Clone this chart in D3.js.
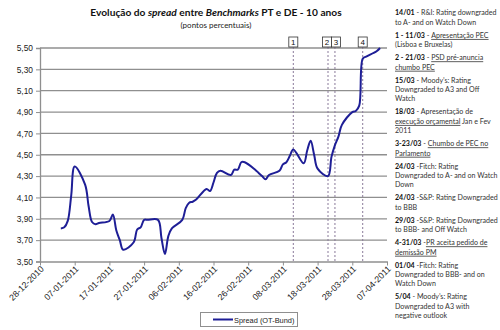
<!DOCTYPE html>
<html>
<head>
<meta charset="utf-8">
<script src="https://cdn.jsdelivr.net/npm/d3@7"></script>
<style>
  html, body { margin: 0; padding: 0; background: #fff; }
  svg { display: block; }
</style>
</head>
<body>
<svg id="chart" width="500" height="330"></svg>
<script>
// Daily closes of the PT–DE 10y spread (percentage points)
const dates = [
  "2011-01-03","2011-01-04","2011-01-05","2011-01-06","2011-01-07",
  "2011-01-10","2011-01-11","2011-01-12","2011-01-13","2011-01-14",
  "2011-01-17","2011-01-18","2011-01-19","2011-01-20","2011-01-21",
  "2011-01-24","2011-01-25","2011-01-26","2011-01-27","2011-01-28",
  "2011-01-31","2011-02-01","2011-02-02","2011-02-03","2011-02-04",
  "2011-02-07","2011-02-08","2011-02-09","2011-02-10","2011-02-11",
  "2011-02-14","2011-02-15","2011-02-16","2011-02-17","2011-02-18",
  "2011-02-21","2011-02-22","2011-02-23","2011-02-24","2011-02-25",
  "2011-02-28","2011-03-01","2011-03-02","2011-03-03","2011-03-04",
  "2011-03-07","2011-03-08","2011-03-09","2011-03-10","2011-03-11",
  "2011-03-14","2011-03-15","2011-03-16","2011-03-17","2011-03-18",
  "2011-03-21","2011-03-22","2011-03-23","2011-03-24","2011-03-25",
  "2011-03-28","2011-03-29","2011-03-30","2011-03-31","2011-04-01",
  "2011-04-04","2011-04-05"
];
const spread = [
  3.81, 3.82, 3.88, 4.12, 4.39,
  4.22, 4.02, 3.87, 3.85, 3.86,
  3.88, 3.94, 3.79, 3.70, 3.61,
  3.68, 3.80, 3.82, 3.89, 3.89,
  3.89, 3.72, 3.57, 3.74, 3.81,
  3.89, 4.00, 4.05, 4.06, 4.08,
  4.18, 4.16, 4.24, 4.33, 4.35,
  4.31, 4.36, 4.36, 4.43, 4.43,
  4.36, 4.33, 4.30, 4.27, 4.31,
  4.35, 4.41, 4.43, 4.49, 4.55,
  4.42, 4.54, 4.63, 4.50, 4.37,
  4.30, 4.48, 4.59, 4.67, 4.78,
  4.90, 4.91, 4.96, 5.40, 5.42,
  5.47, 5.50
];
const seriesName = "Spread (OT-Bund)";

const xTickLabels = ["28-12-2010","07-01-2011","17-01-2011","27-01-2011","06-02-2011",
  "16-02-2011","26-02-2011","08-03-2011","18-03-2011","28-03-2011","07-04-2011"];
const yTicks = [3.50, 3.70, 3.90, 4.10, 4.30, 4.50, 4.70, 4.90, 5.10, 5.30, 5.50];

// numbered events marked on the chart
const eventLabels = ["1", "2", "3", "4"];
const eventDates = ["2011-03-11", "2011-03-21", "2011-03-23", "2011-03-31"];

const titleParts = [["Evolução do ", "n"], ["spread", "i"], [" entre ", "n"], ["Benchmarks", "i"], [" PT e DE - 10 anos", "n"]];
const subtitle = "(pontos percentuais)";

// side notes: each entry is a list of lines, each line a list of [text, style]
const notes = [
  [[["14/01","b"],[" - R&I: Rating downgraded",""]], [["to A- and on Watch Down",""]]],
  [[["1 - 11/03","b"],[" - ",""],["Apresentação PEC","u"]], [["(Lisboa e Bruxelas)",""]]],
  [[["2 - 21/03","b"],[" - ",""],["PSD pré-anuncia","u"]], [["chumbo PEC","u"]]],
  [[["15/03","b"],[" - Moody’s: Rating",""]], [["Downgraded to A3 and Off",""]], [["Watch",""]]],
  [[["18/03","b"],[" - Apresentação de",""]], [["execução orçamental","u"],[" Jan e Fev",""]], [["2011",""]]],
  [[["3-23/03","b"],[" - ",""],["Chumbo de PEC no","u"]], [["Parlamento","u"]]],
  [[["24/03","b"],[" -Fitch: Rating",""]], [["Downgraded to A- and on Watch",""]], [["Down",""]]],
  [[["24/03","b"],[" -S&P: Rating Downgraded",""]], [["to BBB",""]]],
  [[["29/03","b"],[" -S&P: Rating Downgraded",""]], [["to BBB- and Off Watch",""]]],
  [[["4-31/03","b"],[" -",""],["PR aceita pedido de","u"]], [["demissão PM","u"]]],
  [[["01/04","b"],[" -Fitch: Rating",""]], [["Downgraded to BBB- and on",""]], [["Watch Down",""]]],
  [[["5/04","b"],[" - Moody’s: Rating",""]], [["Downgraded to A3 with",""]], [["negative outlook",""]]]
];

// ---- drawing ----
const svg = d3.select("#chart");
const parseISO = d3.utcParse("%Y-%m-%d");
const parseTick = d3.utcParse("%d-%m-%Y");
const fmtTick = d3.utcFormat("%d-%m-%Y");
const fmtY = v => d3.format(".2f")(v).replace(".", ",");

const plot = { left: 40, right: 387, top: 48, bottom: 261.5 };

const x = d3.scaleUtc()
  .domain([parseTick(xTickLabels[0]), parseTick(xTickLabels[xTickLabels.length - 1])])
  .range([plot.left, plot.right]);
const y = d3.scaleLinear()
  .domain([yTicks[0], yTicks[yTicks.length - 1]])
  .range([plot.bottom, plot.top]);

const data = dates.map((d, i) => ({ date: parseISO(d), value: spread[i] }));

const axisFont = "'Liberation Sans', Arial, sans-serif";

// horizontal gridlines
svg.append("g")
  .selectAll("line")
  .data(yTicks.slice(1))
  .join("line")
  .attr("x1", plot.left).attr("x2", plot.right)
  .attr("y1", d => y(d)).attr("y2", d => y(d))
  .attr("stroke", "#8f8f8f")
  .attr("stroke-width", 1.3);

// y axis
const yAxis = svg.append("g")
  .attr("transform", `translate(${plot.left},0)`)
  .call(d3.axisLeft(y).tickValues(yTicks).tickFormat(fmtY).tickSize(4).tickPadding(3));
yAxis.select(".domain").attr("stroke", "#8f8f8f").attr("stroke-width", 1.3);
yAxis.selectAll(".tick line").attr("stroke", "#8f8f8f");
yAxis.selectAll("text")
  .attr("font-family", axisFont).attr("font-size", 8.4).attr("fill", "#222");

// x axis
const xAxis = svg.append("g")
  .attr("transform", `translate(0,${plot.bottom})`)
  .call(d3.axisBottom(x).tickValues(xTickLabels.map(parseTick)).tickFormat(fmtTick).tickSize(4).tickSizeOuter(0));
xAxis.select(".domain").attr("stroke", "#8f8f8f").attr("stroke-width", 1.3);
xAxis.selectAll(".tick line").attr("stroke", "#8f8f8f");
xAxis.selectAll("text")
  .attr("font-family", axisFont).attr("font-size", 8.8).attr("fill", "#222")
  .attr("text-anchor", "end")
  .attr("dy", null).attr("y", 0)
  .attr("transform", "translate(4,8) rotate(-45)");

// event markers: dotted verticals and numbered boxes
const boxW = 9, boxH = 10, boxTop = 37;
const ev = eventDates.map((d, i) => ({ label: eventLabels[i], x: x(parseISO(d)) }));
ev.forEach(e => { e.cx = e.x; });
for (let i = 1; i < ev.length; i++) {
  const overlap = (ev[i - 1].cx + boxW / 2) - (ev[i].cx - boxW / 2);
  if (overlap > 0) { ev[i - 1].cx -= overlap / 2; ev[i].cx += overlap / 2; }
}
svg.append("g").selectAll("line")
  .data(ev).join("line")
  .attr("x1", d => d.x).attr("x2", d => d.x)
  .attr("y1", boxTop + boxH).attr("y2", plot.bottom)
  .attr("stroke", "#8a7a9a").attr("stroke-width", 1)
  .attr("stroke-dasharray", "2,2");
const boxes = svg.append("g").selectAll("g").data(ev).join("g");
boxes.append("rect")
  .attr("x", d => d.cx - boxW / 2).attr("y", boxTop)
  .attr("width", boxW).attr("height", boxH)
  .attr("fill", "#fff").attr("stroke", "#333").attr("stroke-width", 0.8);
boxes.append("text")
  .attr("x", d => d.cx).attr("y", boxTop + boxH - 2)
  .attr("text-anchor", "middle")
  .attr("font-family", axisFont).attr("font-size", 8).attr("fill", "#111")
  .text(d => d.label);

// spread line
const line = d3.line()
  .x(d => x(d.date)).y(d => y(d.value))
  .curve(d3.curveCatmullRom.alpha(0.5));
svg.append("path")
  .datum(data)
  .attr("d", line)
  .attr("fill", "none")
  .attr("stroke", "#1e1e96")
  .attr("stroke-width", 2)
  .attr("stroke-linejoin", "round");

// title
const noteFont = "Lato, 'Open Sans', sans-serif";
const title = svg.append("text")
  .attr("x", 216).attr("y", 16)
  .attr("text-anchor", "middle")
  .attr("font-family", noteFont).attr("font-size", 10.2).attr("font-weight", "bold").attr("fill", "#111");
titleParts.forEach(([t, s]) => {
  title.append("tspan").attr("font-style", s === "i" ? "italic" : null).text(t);
});
svg.append("text")
  .attr("x", 216).attr("y", 28)
  .attr("text-anchor", "middle")
  .attr("font-family", noteFont).attr("font-size", 8).attr("fill", "#222")
  .text(subtitle);

// legend
const lg = svg.append("g");
lg.append("rect")
  .attr("x", 200.5).attr("y", 312.5).attr("width", 97).attr("height", 14)
  .attr("fill", "#fff").attr("stroke", "#8f8f8f").attr("stroke-width", 1);
lg.append("line")
  .attr("x1", 213).attr("x2", 233).attr("y1", 319.5).attr("y2", 319.5)
  .attr("stroke", "#1e1e96").attr("stroke-width", 2);
lg.append("text")
  .attr("x", 234).attr("y", 322.5)
  .attr("font-family", axisFont).attr("font-size", 7.4).attr("fill", "#222")
  .text(seriesName);

// side notes, set in a column 103px wide starting at x = 395
const colX = 395, colW = 103;
const notesG = svg.append("g").attr("font-family", noteFont).attr("font-size", 7.8).attr("fill", "#333");
const lineGap = 9.4, entryGap = 13;
let ny = 15.5;
const noteTexts = [];
notes.forEach(entry => {
  entry.forEach((ln, li) => {
    const t = notesG.append("text").attr("x", colX).attr("y", ny);
    ln.forEach(([txt, s]) => {
      const ts = t.append("tspan").text(txt);
      if (s === "b") ts.attr("font-weight", "bold").attr("fill", "#111");
      if (s === "u") ts.attr("text-decoration", "underline");
    });
    noteTexts.push(t);
    ny += (li < entry.length - 1) ? lineGap : 0;
  });
  ny += entryGap;
});
// condense the column horizontally so the widest line fits
const widest = d3.max(noteTexts, t => t.node().getComputedTextLength());
const sx = Math.min(1, colW / widest);
notesG.attr("transform", `translate(${colX},0) scale(${sx},1) translate(${-colX},0)`);
</script>
</body>
</html>
